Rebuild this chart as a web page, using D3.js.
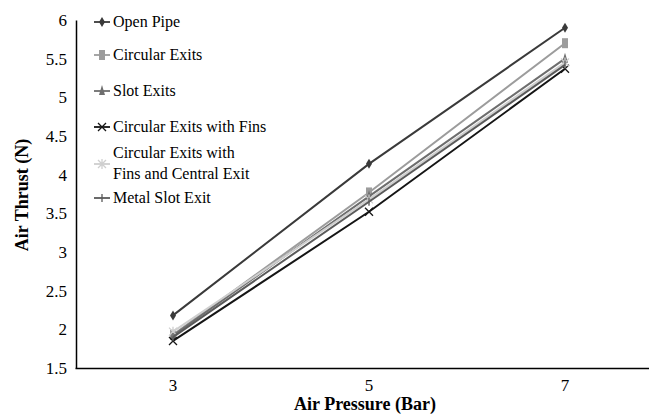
<!DOCTYPE html>
<html><head><meta charset="utf-8">
<script src="https://cdn.jsdelivr.net/npm/d3@7/dist/d3.min.js"></script>
<style>body{margin:0;background:#fff}svg{display:block}text{font-family:"Liberation Serif","Times New Roman",serif}</style>
</head><body><svg id="c" width="649" height="416"></svg>
<script>
const categories = [3, 5, 7];
const seriesNames = ["Open Pipe", "Circular Exits", "Slot Exits", "Circular Exits with Fins", "Circular Exits with|Fins and Central Exit", "Metal Slot Exit"];
const openPipe = [2.18, 4.14, 5.90];
const circularExits = [1.93, 3.77, 5.70];
const slotExits = [1.92, 3.72, 5.50];
const circularFins = [1.85, 3.52, 5.37];
const finsCentral = [1.97, 3.68, 5.45];
const metalSlot = [1.90, 3.65, 5.42];
const yTicks = [1.5, 2, 2.5, 3, 3.5, 4, 4.5, 5, 5.5, 6];
const colors = ["#3a3a3a", "#9c9c9c", "#6e6e6e", "#151515", "#cfcfcf", "#5a5a5a"];
const markers = ["diamond", "square", "triangle", "x", "asterisk", "plus"];
const allValues = [openPipe, circularExits, slotExits, circularFins, finsCentral, metalSlot];

const svg = d3.select("#c");
const x = d3.scaleBand().domain(categories).range([75, 663]);
const y = d3.scaleLinear().domain([1.5, 6]).range([368, 20]);
const font = "Liberation Serif, Times New Roman, serif";

// axes
const gy = svg.append("g").attr("transform", "translate(76,0)")
  .call(d3.axisLeft(y).tickValues(yTicks).tickSize(0).tickPadding(9).tickFormat(d => String(d)));
gy.attr("font-family", font);
gy.select(".domain").attr("stroke", "#000").attr("stroke-width", 1.5);
gy.selectAll("text").attr("font-family", font).attr("font-size", 17).attr("fill", "#000");
const gx = svg.append("g").attr("transform", "translate(0,368)")
  .call(d3.axisBottom(x).tickSize(0).tickPadding(11));
gx.attr("font-family", font);
gx.select(".domain").attr("stroke", "#000").attr("stroke-width", 1.5);
gx.selectAll("text").attr("font-family", font).attr("font-size", 17).attr("fill", "#000");

svg.append("text").attr("x", 365).attr("y", 410).attr("text-anchor", "middle")
  .attr("font-family", font).attr("font-weight", "bold").attr("font-size", 18).text("Air Pressure (Bar)");
svg.append("text").attr("transform", "translate(28,195) rotate(-90)").attr("text-anchor", "middle")
  .attr("font-family", font).attr("font-weight", "bold").attr("font-size", 18).text("Air Thrust (N)");

function drawMarker(g, type, cx, cy, color) {
  const s = 4;
  if (type === "diamond") {
    g.append("path").attr("d", `M${cx},${cy-s-1}L${cx+s-1},${cy}L${cx},${cy+s+1}L${cx-s+1},${cy}Z`).attr("fill", color);
  } else if (type === "square") {
    g.append("rect").attr("x", cx-3).attr("y", cy-5).attr("width", 6).attr("height", 10).attr("fill", color);
  } else if (type === "triangle") {
    g.append("path").attr("d", `M${cx},${cy-s-2}L${cx+s-1},${cy+s}L${cx-s+1},${cy+s}Z`).attr("fill", color);
  } else if (type === "x") {
    g.append("path").attr("d", `M${cx-s},${cy-s}L${cx+s},${cy+s}M${cx+s},${cy-s}L${cx-s},${cy+s}`).attr("stroke", color).attr("stroke-width", 1.3);
  } else if (type === "asterisk") {
    g.append("path").attr("d", `M${cx-s},${cy-s}L${cx+s},${cy+s}M${cx+s},${cy-s}L${cx-s},${cy+s}M${cx},${cy-s-1}L${cx},${cy+s+1}`).attr("stroke", color).attr("stroke-width", 1.3);
  } else if (type === "plus") {
    g.append("path").attr("d", `M${cx},${cy-s}L${cx},${cy+s}`).attr("stroke", color).attr("stroke-width", 1.3);
  }
}

const line = d3.line().x((d, i) => x(categories[i]) + x.bandwidth() / 2).y(d => y(d));
allValues.forEach((vals, si) => {
  const g = svg.append("g");
  g.append("path").datum(vals).attr("d", line).attr("fill", "none")
    .attr("stroke", colors[si]).attr("stroke-width", 2);
  vals.forEach((v, i) => drawMarker(g, markers[si], x(categories[i]) + x.bandwidth() / 2, y(v), colors[si]));
});

// legend
const legY = [22, 55, 91, 127, 164, 198];
seriesNames.forEach((name, si) => {
  const g = svg.append("g");
  const cy = legY[si];
  g.append("line").attr("x1", 94).attr("x2", 110).attr("y1", cy).attr("y2", cy)
    .attr("stroke", colors[si]).attr("stroke-width", 1.8);
  drawMarker(g, markers[si], 102, cy, colors[si]);
  const parts = name.split("|");
  const t = g.append("text").attr("font-family", font).attr("font-size", 16).attr("fill", "#000");
  if (parts.length === 1) {
    t.append("tspan").attr("x", 113).attr("y", cy + 5).text(parts[0]);
  } else {
    t.append("tspan").attr("x", 113).attr("y", cy - 6).text(parts[0]);
    t.append("tspan").attr("x", 113).attr("y", cy + 15).text(parts[1]);
  }
});
</script></body></html>
